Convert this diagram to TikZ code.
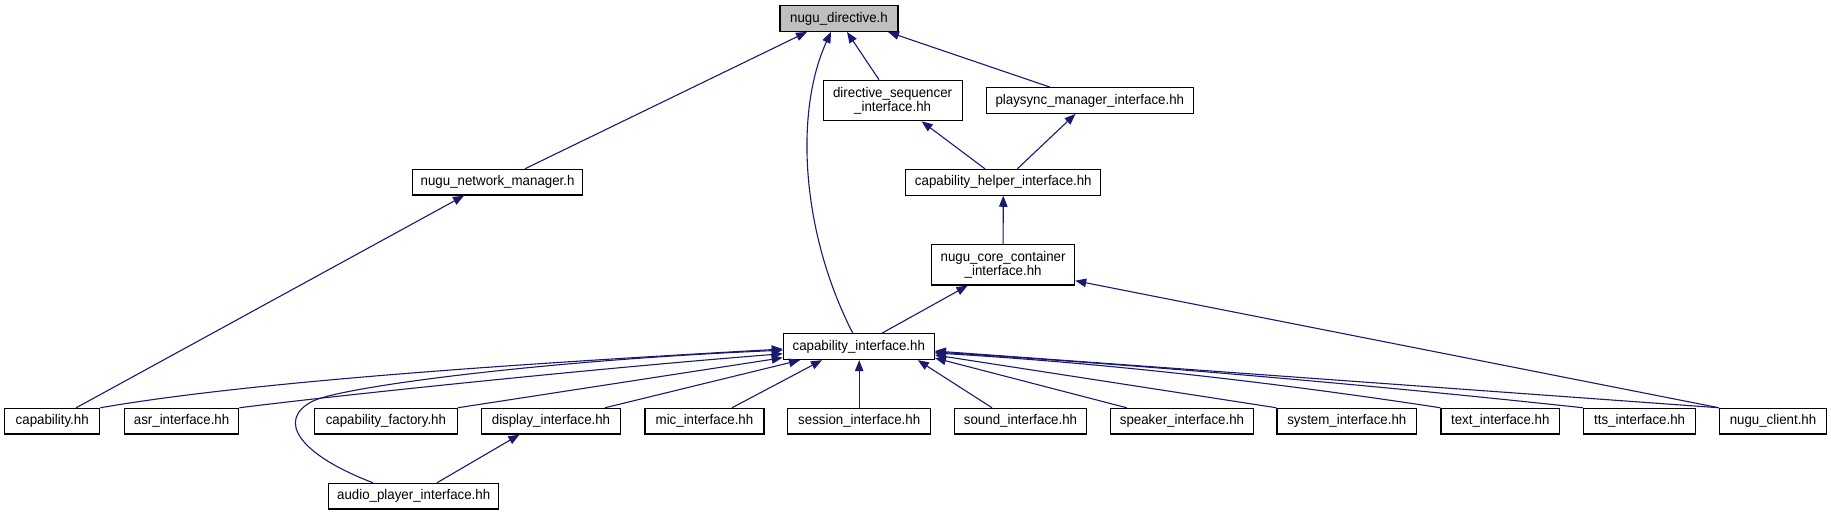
\documentclass[tikz,border=0pt]{standalone}
\usepackage{fontspec}
\setmainfont[FakeStretch=0.95]{Liberation Sans}
\usetikzlibrary{arrows.meta}
\definecolor{edgeblue}{RGB}{25,25,112}
\definecolor{rootgray}{RGB}{191,191,191}
\begin{document}
\begin{tikzpicture}[x=1pt,y=-1pt,
  box/.style={draw=black, line width=1.2pt, fill=white, inner sep=0pt,
    font=\fontsize{14}{14}\selectfont, align=center},
  row/.style={box, minimum height=25.7pt},
  edge/.style={draw=edgeblue, line width=1.1pt, -{Triangle[length=11pt,width=8.5pt]}},
]
\useasboundingbox (0,0) rectangle (1831,515);

% nodes
\node[row, minimum width=118pt, fill=rootgray] (nd) at (839,18.5) {nugu\_directive.h};
\node[row, minimum width=170pt] (nnm) at (497.6,182.2) {nugu\_network\_manager.h};
\node[box, minimum width=139pt, minimum height=40.4pt] (ds) at (892.6,100.5) {directive\_sequencer\\\_interface.hh};
\node[row, minimum width=207pt] (ps) at (1089.8,100.5) {playsync\_manager\_interface.hh};
\node[row, minimum width=195pt] (ch) at (1003.3,182.3) {capability\_helper\_interface.hh};
\node[box, minimum width=143pt, minimum height=40.7pt] (ncc) at (1003.1,264.7) {nugu\_core\_container\\\_interface.hh};
\node[row, minimum width=151pt] (ci) at (858.8,346.7) {capability\_interface.hh};

\node[row, minimum width=95pt] (cap) at (52.2,421.2) {capability.hh};
\node[row, minimum width=114.4pt] (asr) at (181.6,421.2) {asr\_interface.hh};
\node[row, minimum width=142.6pt] (cf) at (385.9,421.2) {capability\_factory.hh};
\node[row, minimum width=138.5pt] (disp) at (551,421.2) {display\_interface.hh};
\node[row, minimum width=119pt] (mic) at (704.5,421.2) {mic\_interface.hh};
\node[row, minimum width=143.3pt] (ses) at (859.2,421.2) {session\_interface.hh};
\node[row, minimum width=132pt] (snd) at (1020.5,421.2) {sound\_interface.hh};
\node[row, minimum width=142.5pt] (spk) at (1182,421.2) {speaker\_interface.hh};
\node[row, minimum width=139.6pt] (sys) at (1346.8,421.2) {system\_interface.hh};
\node[row, minimum width=118.7pt] (txt) at (1500.3,421.2) {text\_interface.hh};
\node[row, minimum width=112.2pt] (tts) at (1639.6,421.2) {tts\_interface.hh};
\node[row, minimum width=107pt] (nc) at (1773,421.2) {nugu\_client.hh};
\node[row, minimum width=170pt] (ap) at (413.7,496.2) {audio\_player\_interface.hh};

% upper edges
\draw[edge] ([xshift=27.4pt]nnm.north) -- ([xshift=-32pt]nd.south);
\draw[edge] ([xshift=-6pt]ci.north) .. controls (800,230) and (795,110) .. ([xshift=-8pt]nd.south);
\draw[edge] ([xshift=-13.6pt]ds.north) -- ([xshift=8pt]nd.south);
\draw[edge] ([xshift=-40pt]ps.north) -- ([xshift=49pt]nd.south);
\draw[edge] ([xshift=24pt]cap.north) -- ([xshift=-33.6pt]nnm.south);
\draw[edge] ([xshift=-18.3pt]ch.north) -- ([xshift=29pt]ds.south);
\draw[edge] ([xshift=14pt]ch.north) -- ([xshift=-14.4pt]ps.south);
\draw[edge] (ncc.north) -- (ch.south);
\draw[edge] ([xshift=23pt]ci.north) -- ([xshift=-35.6pt]ncc.south);
\draw[edge] (nc.north west) -- ([yshift=-16pt]ncc.east);
\draw[edge] ([xshift=23.3pt]ap.north) -- ([xshift=-31.6pt]disp.south);

% lower edges into capability_interface
\draw[edge] (cap.north east) .. controls (260,380) and (550,362) .. ([yshift=-2.3pt]ci.west);
\draw[edge] ([xshift=-40.7pt]ap.north) .. controls (300,455) and (275,420) .. (313,401)
  .. controls (345,386) and (550,360) .. ([yshift=-3.5pt]ci.west);
\draw[edge] (asr.north east) .. controls (340,395) and (600,368) .. ([yshift=-7pt]ci.west);
\draw[edge] (cf.north east) -- ([yshift=-11pt]ci.west);
\draw[edge] ([xshift=54pt]disp.north) -- ([xshift=-58.8pt]ci.south);
\draw[edge] ([xshift=27.5pt]mic.north) -- ([xshift=-36.8pt]ci.south);
\draw[edge] (ses.north) -- (ses.north |- ci.south);
\draw[edge] ([xshift=-28.5pt]snd.north) -- ([xshift=59pt]ci.south);
\draw[edge] ([xshift=-55.3pt]spk.north) -- ([yshift=-11.3pt]ci.east);
\draw[edge] (sys.north west) -- ([yshift=-8.3pt]ci.east);
\draw[edge] (txt.north west) .. controls (1272,382) and (1103,363) .. ([yshift=-6.3pt]ci.east);
\draw[edge] (tts.north west) .. controls (1367,384.5) and (1150.7,365.8) .. ([yshift=-5.3pt]ci.east);
\draw[edge] (nc.north west) -- ([yshift=-4.3pt]ci.east);
\end{tikzpicture}
\end{document}
